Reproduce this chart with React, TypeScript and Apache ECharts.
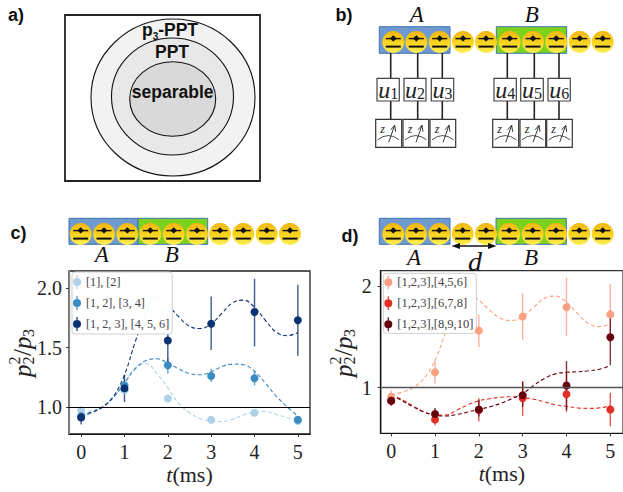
import React, { useEffect, useRef } from "react";
import * as echarts from "echarts";

const times = [0, 1, 2, 3, 4, 5];
const fitTimes = [0, 0.25, 0.5, 0.75, 1, 1.25, 1.5, 1.75, 2, 2.25, 2.5, 2.75, 3, 3.25, 3.5, 3.75, 4, 4.25, 4.5, 4.75, 5];

// Panel c
const cNames = ["[1], [2]", "[1, 2], [3, 4]", "[1, 2, 3], [4, 5, 6]"];
const cColors = ["#aed1e7", "#3a8bc4", "#0b3272"];
const cY1 = [0.97, 1.14, 1.07, 0.89, 0.95, 0.88];
const cLo1 = [0.95, 1.11, 1.05, 0.87, 0.93, 0.86];
const cHi1 = [0.99, 1.17, 1.09, 0.91, 0.97, 0.9];
const cY2 = [0.92, 1.18, 1.35, 1.26, 1.24, 0.89];
const cLo2 = [0.88, 1.13, 1.28, 1.21, 1.18, 0.86];
const cHi2 = [0.96, 1.23, 1.41, 1.32, 1.3, 0.92];
const cY3 = [0.91, 1.155, 1.56, 1.7, 1.8, 1.73];
const cLo3 = [0.85, 1.04, 1.34, 1.48, 1.51, 1.43];
const cHi3 = [0.97, 1.27, 1.78, 1.93, 2.08, 2.03];
const cFit1 = [0.95, 0.97, 1.0, 1.08, 1.2, 1.33, 1.365, 1.28, 1.16, 1.03, 0.95, 0.9, 0.88, 0.875, 0.895, 0.93, 0.955, 0.96, 0.935, 0.91, 0.89];
const cFit2 = [0.92, 0.95, 1.0, 1.08, 1.2, 1.32, 1.39, 1.405, 1.37, 1.32, 1.28, 1.27, 1.295, 1.34, 1.36, 1.355, 1.3, 1.2, 1.09, 1.0, 0.92];
const cFit3 = [0.93, 0.955, 1.0, 1.09, 1.27, 1.55, 1.8, 1.93, 1.86, 1.76, 1.68, 1.66, 1.7, 1.79, 1.88, 1.9, 1.84, 1.73, 1.63, 1.6, 1.625];
const cYTicks = [1.0, 1.5, 2.0];

// Panel d
const dNames = ["[1,2,3],[4,5,6]", "[1,2,3],[6,7,8]", "[1,2,3],[8,9,10]"];
const dColors = ["#fca082", "#e32f27", "#67000d"];
const dY1 = [0.91, 1.15, 1.56, 1.7, 1.79, 1.72];
const dLo1 = [0.86, 1.04, 1.4, 1.47, 1.51, 1.475];
const dHi1 = [0.97, 1.27, 1.72, 1.93, 2.08, 2.02];
const dY2 = [0.87, 0.685, 0.78, 0.895, 0.935, 0.785];
const dLo2 = [0.83, 0.63, 0.665, 0.72, 0.76, 0.62];
const dHi2 = [0.91, 0.75, 0.895, 1.06, 1.14, 0.95];
const dY3 = [0.87, 0.74, 0.785, 0.925, 1.02, 1.495];
const dLo3 = [0.82, 0.68, 0.715, 0.81, 0.78, 1.22];
const dHi3 = [0.92, 0.8, 0.88, 1.06, 1.26, 1.76];
const dFit1 = [0.93, 0.955, 1.0, 1.09, 1.27, 1.55, 1.8, 1.93, 1.86, 1.76, 1.68, 1.66, 1.7, 1.79, 1.88, 1.9, 1.84, 1.73, 1.63, 1.6, 1.625];
const dFit2 = [0.93, 0.88, 0.82, 0.76, 0.73, 0.73, 0.78, 0.83, 0.87, 0.89, 0.905, 0.91, 0.9, 0.885, 0.86, 0.83, 0.815, 0.8, 0.795, 0.8, 0.82];
const dFit3 = [0.93, 0.87, 0.81, 0.76, 0.73, 0.72, 0.735, 0.76, 0.785, 0.81, 0.845, 0.89, 0.94, 1.02, 1.09, 1.135, 1.15, 1.155, 1.165, 1.18, 1.215];
const dYTicks = [1, 2];

const SERIF = "Liberation Serif";
const SANS = "Liberation Sans";
const LEGEND_ICON = "path://M4 3a4 4 0 1 1 0 8a4 4 0 1 1 0-8z M3.4 0h1.2v14h-1.2z";

function ion(x: number, y: number) {
  return {
    type: "group",
    x,
    y,
    children: [
      {
        type: "circle",
        shape: { cx: 0, cy: 0, r: 11 },
        style: {
          fill: new echarts.graphic.LinearGradient(0, 0, 0, 1, [
            { offset: 0, color: "#f0b60e" },
            { offset: 0.5, color: "#f8d21e" },
            { offset: 1, color: "#ffee55" },
          ]),
        },
      },
      { type: "line", shape: { x1: -7.5, y1: -3.4, x2: 7.5, y2: -3.4 }, style: { stroke: "#111", lineWidth: 1.4 } },
      { type: "polygon", shape: { points: [[-3.4, -3.4], [0, -6.8], [3.4, -3.4], [0, -0.4]] }, style: { fill: "#111" } },
      { type: "line", shape: { x1: -7.5, y1: 4.6, x2: 7.5, y2: 4.6 }, style: { stroke: "#111", lineWidth: 2 } },
    ],
  };
}

function zoneRect(x1: number, x2: number, y1: number, y2: number, fill: string) {
  return {
    type: "rect",
    shape: { x: x1, y: y1, width: x2 - x1, height: y2 - y1 },
    style: { fill, stroke: "#3f74b5", lineWidth: 1 },
  };
}

function serifItalic(text: string, x: number, y: number, size = 23) {
  return {
    type: "text",
    style: { text, x, y, fill: "#111", font: `italic ${size}px "${SERIF}"`, align: "center", verticalAlign: "middle" },
  };
}

function bold(text: string, x: number, y: number, size = 18) {
  return {
    type: "text",
    style: { text, x, y, fill: "#111", font: `bold ${size}px "${SANS}"`, align: "center", verticalAlign: "middle" },
  };
}

function ellipse(cx: number, cy: number, rx: number, ry: number, fill: string) {
  return { type: "ellipse", shape: { cx, cy, rx, ry }, style: { fill, stroke: "#111", lineWidth: 1.1 } };
}

function unitBox(x1: number, x2: number, label: number) {
  return [
    {
      type: "rect",
      shape: { x: x1, y: 78.3, width: x2 - x1, height: 22.7 },
      style: { fill: "#fff", stroke: "#444", lineWidth: 1.2 },
    },
    {
      type: "text",
      style: {
        text: `{u|u}{s|${label}}`,
        x: (x1 + x2) / 2,
        y: 89.5,
        align: "center",
        verticalAlign: "middle",
        rich: {
          u: { font: `italic 24px "${SERIF}"`, fill: "#222", verticalAlign: "middle", lineHeight: 24 },
          s: { font: `16px "${SERIF}"`, fill: "#222", verticalAlign: "bottom", lineHeight: 24 },
        },
      },
    },
  ];
}

function meter(x0: number, w: number) {
  const y0 = 119.3;
  return {
    type: "group",
    x: x0,
    y: y0,
    children: [
      { type: "rect", shape: { x: 0, y: 0, width: w, height: 28 }, style: { fill: "#fff", stroke: "#333", lineWidth: 1.2 } },
      {
        type: "bezierCurve",
        shape: { x1: 2, y1: 20.5, x2: 23.5, y2: 20.5, cpx1: 12.5, cpy1: 12 },
        style: { stroke: "#222", lineWidth: 0.8, fill: "none" },
      },
      { type: "line", shape: { x1: 13, y1: 23, x2: 19, y2: 6 }, style: { stroke: "#222", lineWidth: 0.9 } },
      { type: "polyline", shape: { points: [[15, 10.5], [19, 6], [20, 12.5]] }, style: { stroke: "#222", lineWidth: 0.9, fill: "none" } },
      {
        type: "text",
        style: { text: "z", x: 7, y: 9.5, fill: "#222", font: `italic 12px "${SERIF}"`, align: "center", verticalAlign: "middle" },
      },
    ],
  };
}

function wire(x: number, y1: number, y2: number) {
  return { type: "line", shape: { x1: x, y1, x2: x, y2 }, style: { stroke: "#222", lineWidth: 1.6 } };
}

function yName(cx: number, bottom: number) {
  const t = (text: string, dx: number, dy: number, font: string) => ({
    type: "text",
    style: { text, x: dx, y: dy, fill: "#222", font, align: "left", verticalAlign: "middle" },
  });
  const big = `italic 25px "${SERIF}"`;
  const small = `16px "${SERIF}"`;
  return {
    type: "group",
    x: cx,
    y: bottom,
    rotation: Math.PI / 2,
    children: [
      t("p", 0, 0, big),
      t("2", 12.5, -8, small),
      t("2", 12.5, 6, small),
      t("/", 21, 0, `25px "${SERIF}"`),
      t("p", 28, 0, big),
      t("3", 40, 6, small),
    ],
  };
}

function panelSeries(
  prefix: number,
  names: string[],
  colors: string[],
  ys: number[][],
  los: number[][],
  his: number[][],
  fits: number[][],
  axis: number,
  refColor: string,
  refWidth: number,
) {
  const out: any[] = [];
  names.forEach((name, i) => {
    out.push({
      name: `fit ${prefix}-${i}`,
      type: "line",
      xAxisIndex: axis,
      yAxisIndex: axis,
      smooth: 0.4,
      showSymbol: false,
      symbol: "none",
      z: 2,
      lineStyle: { color: colors[i], width: 1.1, type: [4, 2.5] },
      data: fitTimes.map((t, k) => [t, fits[i][k]]),
      ...(i === 0
        ? {
            markLine: {
              silent: true,
              symbol: "none",
              label: { show: false },
              lineStyle: { color: refColor, width: refWidth, type: "solid" },
              data: [{ yAxis: 1 }],
            },
          }
        : {}),
    });
    out.push({
      name: `err ${prefix}-${i}`,
      type: "custom",
      xAxisIndex: axis,
      yAxisIndex: axis,
      z: 3,
      encode: { x: 0, y: [1, 2] },
      data: times.map((t, k) => [t, los[i][k], his[i][k]]),
      renderItem: (_p: any, api: any) => {
        const a = api.coord([api.value(0), api.value(1)]);
        const b = api.coord([api.value(0), api.value(2)]);
        return {
          type: "line",
          shape: { x1: a[0], y1: a[1], x2: b[0], y2: b[1] },
          style: { stroke: colors[i], lineWidth: 1.4, opacity: 0.8 },
        };
      },
    });
    out.push({
      name,
      type: "scatter",
      xAxisIndex: axis,
      yAxisIndex: axis,
      z: 4,
      symbol: "circle",
      symbolSize: 8,
      itemStyle: { color: colors[i], opacity: 1 },
      data: times.map((t, k) => [t, ys[i][k]]),
    });
  });
  return out;
}

function legend(names: string[], left: number, top: number, pad: number[], fontSize: number) {
  return {
    data: names.map((name) => ({ name, icon: LEGEND_ICON })),
    orient: "vertical",
    left,
    top,
    padding: pad,
    itemWidth: 8,
    itemHeight: 14,
    itemGap: 7,
    selectedMode: false,
    backgroundColor: "rgba(255,255,255,0.95)",
    borderColor: "#cfcfcf",
    borderWidth: 1,
    borderRadius: 3,
    textStyle: { fontFamily: SERIF, fontSize, color: "#444" },
  };
}

function xAxis(gridIndex: number, min: number, max: number) {
  return {
    type: "value",
    gridIndex,
    min,
    max,
    name: "{i|t}{r|(ms)}",
    nameLocation: "middle",
    nameGap: 29,
    nameTextStyle: {
      rich: {
        i: { fontFamily: SERIF, fontStyle: "italic", fontSize: 22, color: "#222" },
        r: { fontFamily: SERIF, fontSize: 22, color: "#222" },
      },
    },
    splitLine: { show: false },
    axisLine: { show: true, onZero: false, lineStyle: { color: "#111", width: 1.2 } },
    axisTick: { show: true, length: 3, customValues: times, lineStyle: { color: "#333" } },
    axisLabel: { customValues: times, fontFamily: SERIF, fontSize: 20, color: "#222", margin: 8 },
  };
}

function yAxis(gridIndex: number, min: number, max: number, ticks: number[], digits: number, color: string, margin: number) {
  return {
    type: "value",
    gridIndex,
    min,
    max,
    splitLine: { show: false },
    axisLine: { show: true, onZero: false, lineStyle: { color, width: 1.3 } },
    axisTick: { show: true, length: 3, customValues: ticks, lineStyle: { color: "#333" } },
    axisLabel: {
      customValues: ticks,
      fontFamily: SERIF,
      fontSize: 20,
      color: "#222",
      margin,
      formatter: (v: number) => v.toFixed(digits),
    },
  };
}

export default function App() {
  const ref = useRef<HTMLDivElement>(null);
  useEffect(() => {
    const chart = echarts.init(ref.current!, undefined, { renderer: "svg" });

    const chainB = [393.3, 416.3, 439.7, 463, 486, 509.7, 533, 556.3, 579.7, 602.7];
    const chainC = [80.7, 104, 127.3, 150.3, 173.7, 197, 220, 243.3, 266.7, 290];
    const chainD = [393.3, 416, 439.3, 462.7, 486, 509.3, 532.7, 556, 579.3, 602.7];
    const blue = "#7099cf";
    const green = "#7dd21f";

    const graphic: any[] = [
      // Panel labels
      bold("a)", 16, 15),
      bold("b)", 344, 15),
      bold("c)", 18.5, 233),
      bold("d)", 350, 236),

      // Panel a
      {
        type: "rect",
        shape: { x: 65, y: 15, width: 195, height: 166 },
        style: { fill: "#fff", stroke: "#222", lineWidth: 1.8 },
      },
      ellipse(173, 97.5, 82, 78.5, "#f2f2f2"),
      ellipse(172.5, 96.5, 61, 58.5, "#e8e8e8"),
      ellipse(172.7, 99, 43, 37.3, "#d9d9d9"),
      {
        type: "text",
        style: {
          text: "{b|p}{s|3}{b|-PPT}",
          x: 170,
          y: 30,
          align: "center",
          verticalAlign: "middle",
          rich: {
            b: { font: `bold 17.5px "${SANS}"`, fill: "#111", verticalAlign: "middle", lineHeight: 22 },
            s: { font: `bold 10px "${SANS}"`, fill: "#111", verticalAlign: "bottom", lineHeight: 22 },
          },
        },
      },
      bold("PPT", 172, 52, 17.5),
      bold("separable", 172.7, 92.3, 17.5),

      // Panel b
      serifItalic("A", 416.7, 14),
      serifItalic("B", 531.7, 14),
      zoneRect(379.3, 450, 26.7, 53.3, blue),
      zoneRect(496.3, 566.7, 26.7, 53.3, green),
      ...chainB.map((x) => ion(x, 42)),
      ...[390.7, 417.7, 442.3, 507.3, 534.3, 559].flatMap((x) => [wire(x, 53, 78), wire(x, 101, 119)]),
      ...unitBox(377, 399.3, 1),
      ...unitBox(404, 426, 2),
      ...unitBox(431.3, 453.7, 3),
      ...unitBox(494, 516.3, 4),
      ...unitBox(520.7, 543.3, 5),
      ...unitBox(548, 570.3, 6),
      meter(375.7, 26),
      meter(403, 25.7),
      meter(430, 25.7),
      meter(492.7, 26),
      meter(520, 25.7),
      meter(546.7, 25.6),

      // Panel c chain
      zoneRect(69, 138, 218.3, 244.3, blue),
      zoneRect(138, 207.7, 218.3, 244.3, green),
      ...chainC.map((x) => ion(x, 234)),
      serifItalic("A", 101.7, 254),
      serifItalic("B", 171.7, 254),

      // Panel d chain
      zoneRect(379.3, 450, 218.3, 244.3, blue),
      zoneRect(496, 566.3, 218.3, 244.3, green),
      ...chainD.map((x) => ion(x, 234)),
      serifItalic("A", 414, 257.7),
      serifItalic("d", 475, 261, 28),
      serifItalic("B", 531, 257.7),
      { type: "line", shape: { x1: 456, y1: 246, x2: 492, y2: 246 }, style: { stroke: "#111", lineWidth: 1.3 } },
      { type: "polygon", shape: { points: [[451.5, 246], [460, 243], [460, 249]] }, style: { fill: "#111" } },
      { type: "polygon", shape: { points: [[496.5, 246], [488, 243], [488, 249]] }, style: { fill: "#111" } },

      // Rotated y axis names
      yName(22, 377),
      yName(343, 377),
    ];

    chart.setOption({
      animation: false,
      backgroundColor: "#fff",
      textStyle: { fontFamily: SERIF },
      grid: [
        { left: 69, top: 271, width: 241, height: 163, show: true, borderColor: "#222", borderWidth: 1.3, backgroundColor: "transparent" },
        { left: 380.7, top: 270.7, width: 247.3, height: 162.6, show: true, borderColor: "#333", borderWidth: 1.3, backgroundColor: "transparent" },
      ],
      xAxis: [xAxis(0, -0.28, 5.28), xAxis(1, -0.24, 5.29)],
      yAxis: [
        yAxis(0, 0.77, 2.146, cYTicks, 1, "#888", 7),
        yAxis(1, 0.55, 2.15, dYTicks, 0, "#111", 9),
      ],
      legend: [legend(cNames, 72, 272, [3, 3, 3, 1], 12.2), legend(dNames, 383.3, 273.3, [2, 3, 2, 1], 12.5)],
      series: [
        ...panelSeries(0, cNames, cColors, [cY1, cY2, cY3], [cLo1, cLo2, cLo3], [cHi1, cHi2, cHi3], [cFit1, cFit2, cFit3], 0, "#000", 1.1),
        ...panelSeries(1, dNames, dColors, [dY1, dY2, dY3], [dLo1, dLo2, dLo3], [dHi1, dHi2, dHi3], [dFit1, dFit2, dFit3], 1, "#555", 1.4),
      ],
      graphic,
    });
    return () => chart.dispose();
  }, []);
  return <div ref={ref} style={{ position: "absolute", left: 0, top: 0, width: 623, height: 492, overflow: "hidden" }} />;
}
